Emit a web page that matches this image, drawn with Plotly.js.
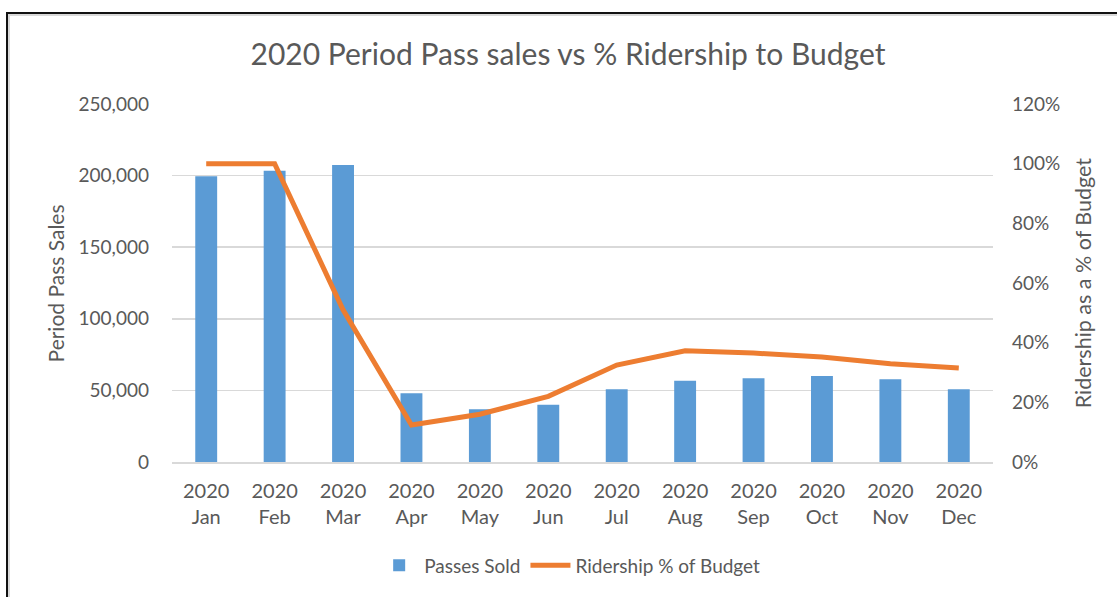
<!DOCTYPE html>
<html>
<head>
<meta charset="utf-8">
<script src="https://cdn.plot.ly/plotly-3.0.1.min.js"></script>
<style>
  html, body { margin: 0; padding: 0; background: #fff; }
  #wrap { position: relative; width: 1117px; height: 597px; }
  #chart { width: 1117px; height: 597px; }
  #frame { position: absolute; left: 6px; top: 12px; right: 0; bottom: 0;
           border-left: 2px solid #111; border-top: 2px solid #111;
           box-shadow: inset 2px 2px 0 #d9d9d9; pointer-events: none; }
</style>
</head>
<body>
<div id="wrap">
  <div id="chart"></div>
  <div id="frame"></div>
</div>
<script>
const months = ["2020<br>Jan","2020<br>Feb","2020<br>Mar","2020<br>Apr","2020<br>May","2020<br>Jun",
                "2020<br>Jul","2020<br>Aug","2020<br>Sep","2020<br>Oct","2020<br>Nov","2020<br>Dec"];
const passesSold = [199500, 203400, 207400, 48000, 36800, 40000, 50800, 56800, 58400, 60000, 57700, 50800];
const ridershipPct = [1.00, 1.00, 0.51, 0.124, 0.16, 0.22, 0.325, 0.373, 0.365, 0.352, 0.329, 0.315];

const FONT = "Lato, 'Open Sans', sans-serif";
const GREY = "#595959";

const traces = [
  { type: "bar", name: "Passes Sold", x: months, y: passesSold,
    marker: { color: "#5B9BD5" }, yaxis: "y" },
  { type: "scatter", mode: "lines", name: "Ridership % of Budget", x: months, y: ridershipPct,
    line: { color: "#ED7D31", width: 5 }, yaxis: "y2" }
];

const layout = {
  width: 1117, height: 597,
  margin: { l: 172, r: 124, t: 104, b: 135 },
  paper_bgcolor: "#fff", plot_bgcolor: "#fff",
  font: { family: FONT, color: GREY, size: 19 },
  title: { text: "2020 Period Pass sales vs % Ridership to Budget",
           font: { family: FONT, size: 30, color: GREY },
           xref: "container", x: 0.5085, yref: "container", y: 0.908, yanchor: "middle" },
  bargap: 0.68,
  showlegend: true,
  legend: { orientation: "h", x: 0.51, xref: "container", xanchor: "center",
            y: 0.053, yref: "container", yanchor: "middle",
            font: { family: FONT, size: 19, color: GREY }, itemwidth: 40, traceorder: "normal" },
  xaxis: { type: "category", showgrid: false, showline: true, linecolor: "#D9D9D9", linewidth: 2,
           ticks: "", ticklabelstandoff: 10, tickfont: { family: FONT, size: 20, color: GREY }, fixedrange: true },
  yaxis: { range: [0, 250000], dtick: 50000, tickformat: ",d", showgrid: true,
           gridcolor: "#D9D9D9", gridwidth: 1.5, zeroline: false, ticks: "",
           ticklabelstandoff: 22, tickfont: { family: FONT, size: 19, color: GREY } },
  yaxis2: { range: [0, 1.2], dtick: 0.2, tickformat: ".0%", overlaying: "y", side: "right",
            showgrid: false, zeroline: false, ticks: "", ticklabelstandoff: 18,
            tickfont: { family: FONT, size: 19, color: GREY } },
  annotations: [
    { text: "Period Pass Sales", xref: "paper", yref: "paper", x: -0.142, y: 0.5,
      xanchor: "center", yanchor: "middle", textangle: -90, showarrow: false,
      font: { family: FONT, size: 21, color: GREY } },
    { text: "Ridership as a % of Budget", xref: "paper", yref: "paper", x: 1.11, y: 0.5,
      xanchor: "center", yanchor: "middle", textangle: -90, showarrow: false,
      font: { family: FONT, size: 21.5, color: GREY } }
  ]
};

Plotly.newPlot("chart", traces, layout, { staticPlot: true, displayModeBar: false });
</script>
</body>
</html>
